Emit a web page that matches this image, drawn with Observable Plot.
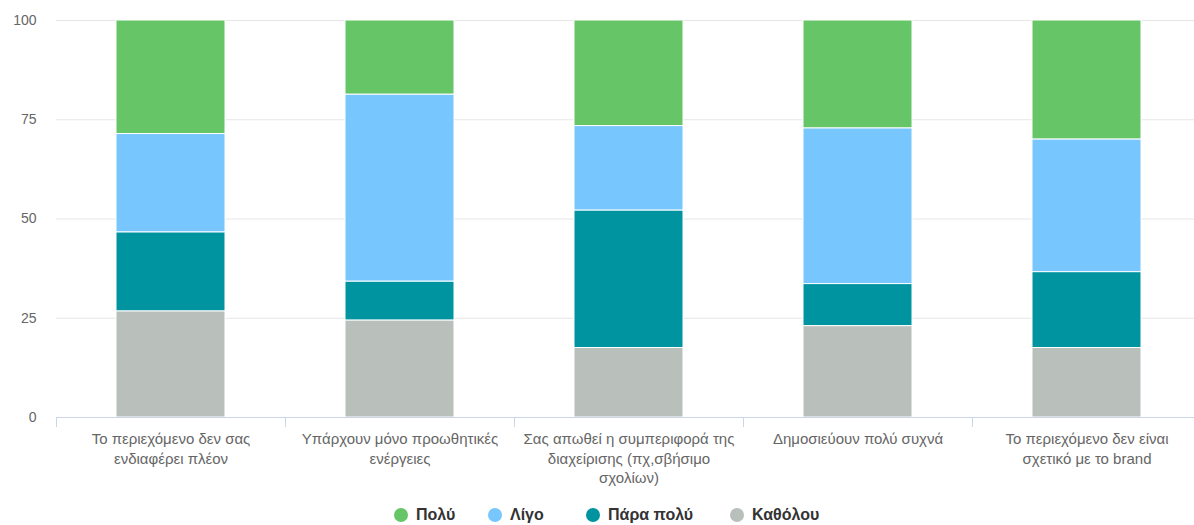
<!DOCTYPE html>
<html>
<head>
<meta charset="utf-8">
<script src="https://cdn.jsdelivr.net/npm/d3@7"></script>
<script src="https://cdn.jsdelivr.net/npm/@observablehq/plot@0.6"></script>
<style>
  html, body { margin: 0; padding: 0; background: #fff; }
  body { width: 1194px; height: 525px; position: relative; overflow: hidden; font-family: "Liberation Sans", Arial, sans-serif; }
  #chart { position: absolute; left: 0; top: 0; }
  #legend { position: absolute; top: 505px; left: 0; width: 1194px; height: 20px; }
  .item { position: absolute; top: 0; height: 20px; display: flex; align-items: center; font-weight: bold; font-size: 16px; color: #333; white-space: nowrap; }
  .dot { width: 14px; height: 14px; border-radius: 50%; margin-right: 8px; }
</style>
</head>
<body>
<div id="chart"></div>
<div id="legend"></div>
<script>
const categories = [
  "Το περιεχόμενο δεν σας ενδιαφέρει πλέον",
  "Υπάρχουν μόνο προωθητικές ενέργειες",
  "Σας απωθεί η συμπεριφορά της διαχείρισης (πχ,σβήσιμο σχολίων)",
  "Δημοσιεύουν πολύ συχνά",
  "Το περιεχόμενο δεν είναι σχετικό με το brand"
];
const tickLabels = [
  "Το περιεχόμενο δεν σας\nενδιαφέρει πλέον",
  "Υπάρχουν μόνο προωθητικές\nενέργειες",
  "Σας απωθεί η συμπεριφορά της\nδιαχείρισης (πχ,σβήσιμο\nσχολίων)",
  "Δημοσιεύουν πολύ συχνά",
  "Το περιεχόμενο δεν είναι\nσχετικό με το brand"
];
const seriesNames = ["Πολύ", "Λίγο", "Πάρα πολύ", "Καθόλου"];
const seriesColors = ["#66c566", "#77c6fe", "#0094a1", "#b9bfbb"];
const poly     = [28.6, 18.7, 26.6, 27.2, 30.0];
const ligo     = [24.8, 47.1, 21.3, 39.2, 33.4];
const paraPoly = [19.9,  9.8, 34.6, 10.6, 19.1];
const katholou = [26.7, 24.4, 17.5, 23.0, 17.5];
const yTicks = [0, 25, 50, 75, 100];

const seriesValues = [poly, ligo, paraPoly, katholou];
const table = [];
seriesNames.forEach((s, si) => {
  categories.forEach((c, ci) => {
    table.push({category: c, series: s, value: seriesValues[si][ci]});
  });
});
const labelOf = new Map(categories.map((c, i) => [c, tickLabels[i]]));

const W = 1194, H = 495;
const step = 229;
const x0 = 56;

const chart = Plot.plot({
  width: W,
  height: H,
  marginLeft: x0,
  marginRight: 0,
  marginTop: 20,
  marginBottom: H - 417,
  style: {fontFamily: "'Liberation Sans', Arial, sans-serif", background: "#fff", overflow: "visible"},
  x: {type: "band", domain: categories, range: [x0, x0 + step * categories.length], paddingInner: 0.524, paddingOuter: 0.262},
  y: {domain: [0, 100]},
  color: {domain: seriesNames, range: seriesColors},
  marks: [
    Plot.gridY(yTicks, {stroke: "#e6e6e6", strokeOpacity: 1}),
    Plot.axisY(yTicks, {tickSize: 0, tickPadding: 20, fontSize: 14, fill: "#666", label: null}),
    Plot.barY(table, {
      x: "category", y: "value", fill: "series",
      order: ["Καθόλου", "Πάρα πολύ", "Λίγο", "Πολύ"],
      stroke: "white", strokeWidth: 1
    }),
    Plot.ruleY([0], {stroke: "#ccd6eb"}),
    Plot.axisX({tickSize: 10, stroke: "#ccd6eb", tickFormat: null, dx: -step / 2, label: null}),
    Plot.axisX({tickSize: 0, tickPadding: 13, fontSize: 15, fill: "#666", lineHeight: 1.3,
      tickFormat: d => labelOf.get(d), label: null})
  ]
});
document.getElementById("chart").appendChild(chart);

// legend
const legendPos = [394, 488, 586, 730];
const legend = document.getElementById("legend");
seriesNames.forEach((s, i) => {
  const item = document.createElement("div");
  item.className = "item";
  item.style.left = legendPos[i] + "px";
  const dot = document.createElement("span");
  dot.className = "dot";
  dot.style.background = seriesColors[i];
  const t = document.createElement("span");
  t.textContent = s;
  item.appendChild(dot);
  item.appendChild(t);
  legend.appendChild(item);
});
</script>
</body>
</html>
